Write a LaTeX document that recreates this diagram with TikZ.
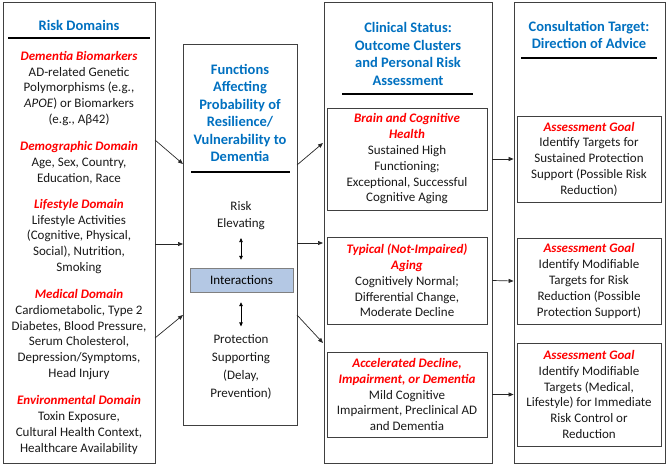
\documentclass[tikz,border=0pt]{standalone}
\usepackage{fontspec}
\setmainfont{Carlito}
\usetikzlibrary{arrows.meta,calc}
\definecolor{titleblue}{HTML}{0070C0}
\definecolor{goalred}{HTML}{FF0000}
\definecolor{boxgrey}{HTML}{404040}
\definecolor{interfill}{HTML}{B4C8E4}
\newcommand{\redhd}[1]{{\color{goalred}\bfseries\itshape #1}}

\begin{document}
\begin{tikzpicture}[x=1pt,y=-1pt,
  panel/.style={draw=boxgrey,line width=0.8pt,inner sep=0pt},
  subbox/.style={draw=boxgrey,line width=0.8pt,inner sep=0pt,align=center,text=black!90,font=\fontsize{13}{15.8}\selectfont},
  headtxt/.style={text=titleblue,font=\fontsize{14.5}{17.5}\selectfont\bfseries,align=center,inner sep=0pt},
  body/.style={text=black!90,font=\fontsize{13}{15.8}\selectfont,align=center,inner sep=0pt},
  rulebar/.style={line width=2.2pt},
  arr/.style={-{Triangle[length=5pt,width=4pt]},line width=0.7pt,draw=black!85},
  darr/.style={{Triangle[length=4pt,width=3.5pt]}-{Triangle[length=4pt,width=3.5pt]},line width=0.7pt}]
  \useasboundingbox (0,0) rectangle (666,466);
  \node[panel,minimum width=152,minimum height=461] (risk) at (79,232.5) {};
  \node[panel,minimum width=114,minimum height=381] (func) at (240,234.5) {};
  \node[panel,minimum width=168,minimum height=461] (clin) at (408,232.5) {};
  \node[panel,minimum width=151,minimum height=461] (cons) at (589.5,232.5) {};
  \node[headtxt] (riskt) at (79,25) {Risk Domains};
  \node[headtxt] (funct) at (240,113) {Functions\\Affecting\\Probability of\\Resilience/\\Vulnerability to\\Dementia};
  \node[headtxt] (clint) at (408,54) {Clinical Status:\\Outcome Clusters\\and Personal Risk\\Assessment};
  \node[headtxt] (const) at (589,35) {Consultation Target:\\Direction of Advice};
  \draw[rulebar] (8,38) -- (150,38);
  \draw[rulebar] (191,172) -- (290,172);
  \draw[rulebar] (342,94) -- (473,94);
  \draw[rulebar] (521,58) -- (657,58);
  \node[body] (biom) at (79,88.5) {\redhd{Dementia Biomarkers}\\AD-related Genetic\\Polymorphisms (e.g.,\\\textit{APOE}) or Biomarkers\\(e.g., Aβ42)};
  \node[body] (demo) at (79,163) {\redhd{Demographic Domain}\\Age, Sex, Country,\\Education, Race};
  \node[body] (life) at (79,236.5) {\redhd{Lifestyle Domain}\\Lifestyle Activities\\(Cognitive, Physical,\\Social), Nutrition,\\Smoking};
  \node[body] (medi) at (79,334.5) {\redhd{Medical Domain}\\Cardiometabolic, Type 2\\Diabetes, Blood Pressure,\\Serum Cholesterol,\\Depression/Symptoms,\\Head Injury};
  \node[body] (envi) at (79,425) {\redhd{Environmental Domain}\\Toxin Exposure,\\Cultural Health Context,\\Healthcare Availability};
  \node[body,font=\fontsize{13}{17.5}\selectfont] (elev) at (241,215.5) {Risk\\Elevating};
  \node[draw=black!50,fill=interfill,minimum width=103,minimum height=24,font=\fontsize{13}{15.8}\selectfont] (inter) at (241.5,280) {Interactions};
  \node[body,font=\fontsize{13}{18}\selectfont] (prot) at (241,367) {Protection\\Supporting\\(Delay,\\Prevention)};
  \node[subbox,minimum width=160,minimum height=102] (bhea) at (407,159) {\redhd{Brain and Cognitive}\\\redhd{Health}\\Sustained High\\Functioning;\\Exceptional, Successful\\Cognitive Aging};
  \node[subbox,minimum width=160,minimum height=87] (typi) at (407,280.5) {\redhd{Typical (Not-Impaired)}\\\redhd{Aging}\\Cognitively Normal;\\Differential Change,\\Moderate Decline};
  \node[subbox,minimum width=160,minimum height=85] (acce) at (407,394.5) {\redhd{Accelerated Decline,}\\\redhd{Impairment, or Dementia}\\Mild Cognitive\\Impairment, Preclinical AD\\and Dementia};
  \node[subbox,minimum width=144,minimum height=86] (goa1) at (589,159) {\redhd{Assessment Goal}\\Identify Targets for\\Sustained Protection\\Support (Possible Risk\\Reduction)};
  \node[subbox,minimum width=144,minimum height=86] (goa2) at (589,281) {\redhd{Assessment Goal}\\Identify Modifiable\\Targets for Risk\\Reduction (Possible\\Protection Support)};
  \node[subbox,minimum width=144,minimum height=103] (goa3) at (589,394.5) {\redhd{Assessment Goal}\\Identify Modifiable\\Targets (Medical,\\Lifestyle) for Immediate\\Risk Control or\\Reduction};
  \coordinate (r1) at (155,140);
  \coordinate (f1) at (183,164);
  \coordinate (r2) at (155,244);
  \coordinate (f2) at (183,244);
  \coordinate (r3) at (155,338);
  \coordinate (f3) at (183,315);
  \coordinate (f4) at (297,165);
  \coordinate (c1) at (323,143);
  \coordinate (f5) at (297,243);
  \coordinate (c2) at (323,243);
  \coordinate (f6) at (297,315);
  \coordinate (c3) at (323,343);
  \draw[arr] (r1) -- (f1);
  \draw[arr] (r2) -- (f2);
  \draw[arr] (r3) -- (f3);
  \draw[arr] (f4) -- (c1);
  \draw[arr] (f5) -- (c2);
  \draw[arr] (f6) -- (c3);
  \draw[darr] ($(elev.south)+(0,8)$) -- ($(inter.north)+(-0.5,-8)$);
  \draw[darr] ($(inter.south)+(-0.5,10)$) -- ($(prot.north)+(0,-8)$);
  \draw[arr] (clin.east |- bhea.east) -- (cons.west |- goa1.west);
  \draw[arr] (clin.east |- typi.east) -- (cons.west |- goa2.west);
  \draw[arr] (clin.east |- acce.east) -- (cons.west |- goa3.west);
\end{tikzpicture}
\end{document}
